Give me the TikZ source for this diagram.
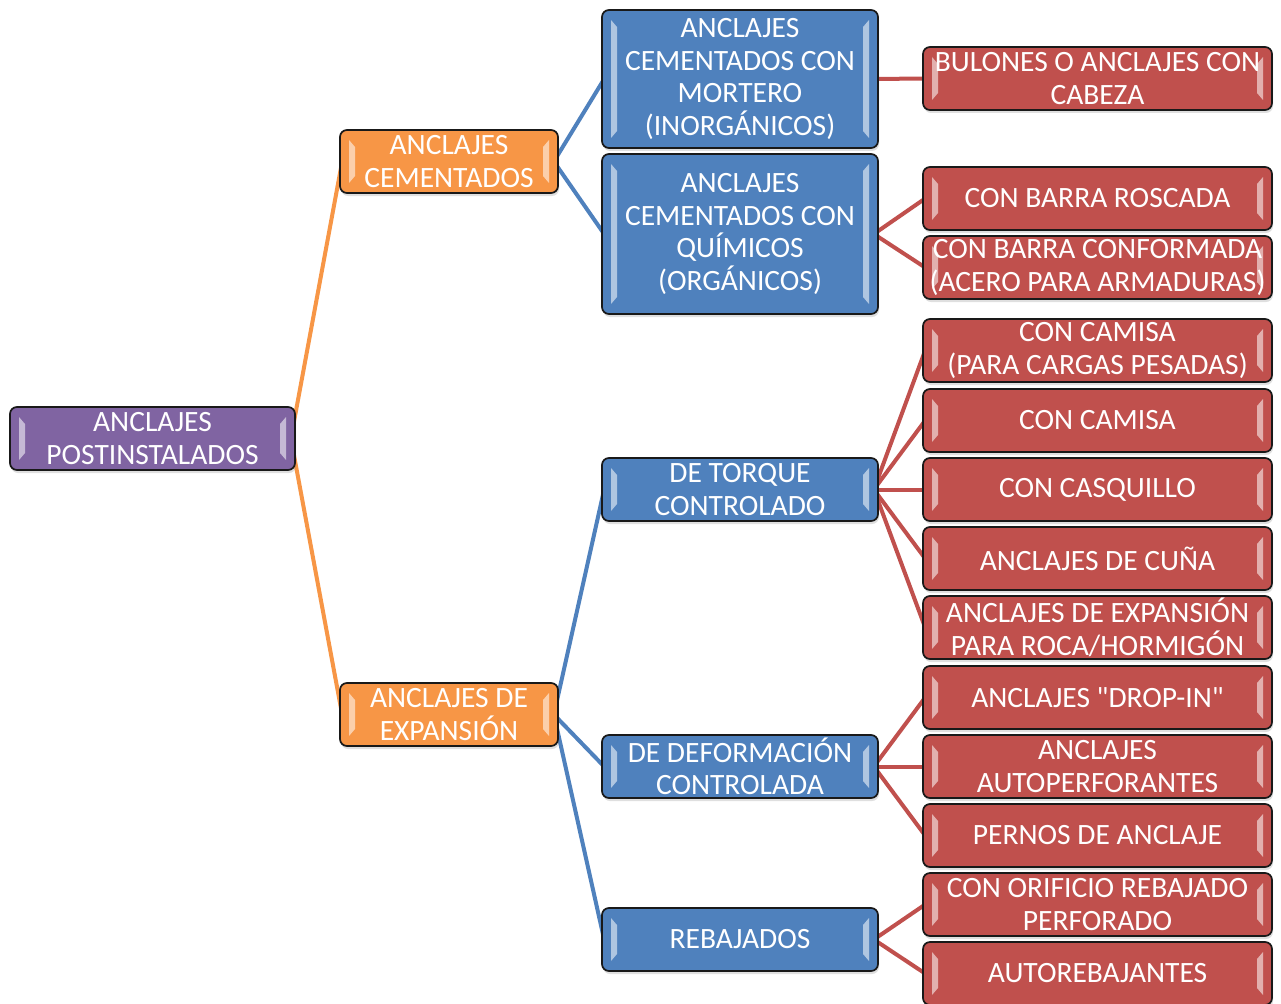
\documentclass[tikz,border=0pt]{standalone}
\usepackage{fontspec}
\setmainfont{Carlito}
\usetikzlibrary{shadows,backgrounds}

\definecolor{cPurple}{HTML}{8064A2}
\definecolor{cOrange}{HTML}{F79646}
\definecolor{cBlue}{HTML}{4F81BD}
\definecolor{cRed}{HTML}{C0504D}

\tikzset{
  box/.style={
    draw=black!90, line width=1.7pt, rounded corners=7pt,
    text=white, align=center, inner sep=0pt,
    font=\fontsize{29.5}{32.5}\selectfont,
    drop shadow={shadow xshift=1pt, shadow yshift=-3pt, opacity=.25},
    path picture={
      % bevelled light strips along both short sides
      \fill[white, opacity=.55, sharp corners]
        ([xshift=9pt,yshift=-10pt]path picture bounding box.north west)
        -- ++(6pt,-7pt)
        -- ([xshift=15pt,yshift=17pt]path picture bounding box.south west)
        -- ++(-6pt,-7pt) -- cycle;
      \fill[white, opacity=.55, sharp corners]
        ([xshift=-9pt,yshift=-10pt]path picture bounding box.north east)
        -- ++(-6pt,-7pt)
        -- ([xshift=-15pt,yshift=17pt]path picture bounding box.south east)
        -- ++(6pt,-7pt) -- cycle;
    }},
  rootbox/.style={box, fill=cPurple, minimum width=285pt, minimum height=63pt},
  midbox/.style={box, fill=cOrange, minimum width=218pt, minimum height=63pt},
  subbox/.style={box, fill=cBlue, minimum width=276pt, minimum height=63pt},
  leafbox/.style={box, fill=cRed, minimum width=349pt, minimum height=63pt},
  link/.style={line width=4pt},
}

\begin{document}
\begin{tikzpicture}[x=1pt, y=-1pt]
\useasboundingbox (0,0) rectangle (1281,1003);

% root
\node[rootbox] (root) at (152.5,438.5) {ANCLAJES\\POSTINSTALADOS};

% second level
\node[midbox] (cem) at (449,161.5) {ANCLAJES\\CEMENTADOS};
\node[midbox] (exp) at (449,714.5) {ANCLAJES DE\\EXPANSIÓN};

% third level
\node[subbox, minimum height=138pt] (mort) at (740,79) {ANCLAJES\\CEMENTADOS CON\\MORTERO\\(INORGÁNICOS)};
\node[subbox, minimum height=160pt] (quim) at (740,234) {ANCLAJES\\CEMENTADOS CON\\QUÍMICOS\\(ORGÁNICOS)};
\node[subbox] (torq) at (740,489.5) {DE TORQUE\\CONTROLADO};
\node[subbox] (defo) at (740,766.5) {DE DEFORMACIÓN\\CONTROLADA};
\node[subbox] (reba) at (740,939.5) {REBAJADOS};

% leaves
\node[leafbox] (l1)  at (1097.5,78.5)  {BULONES O ANCLAJES CON\\CABEZA};
\node[leafbox] (l2)  at (1097.5,198.5) {CON BARRA ROSCADA};
\node[leafbox] (l3)  at (1097.5,267.5) {CON BARRA CONFORMADA\\(ACERO PARA ARMADURAS)};
\node[leafbox] (l4)  at (1097.5,350.5) {CON CAMISA\\(PARA CARGAS PESADAS)};
\node[leafbox] (l5)  at (1097.5,420.5) {CON CAMISA};
\node[leafbox] (l6)  at (1097.5,489.5) {CON CASQUILLO};
\node[leafbox] (l7)  at (1097.5,558.5) {ANCLAJES DE CUÑA};
\node[leafbox] (l8)  at (1097.5,627.5) {ANCLAJES DE EXPANSIÓN\\PARA ROCA/HORMIGÓN};
\node[leafbox] (l9)  at (1097.5,697.5) {ANCLAJES \textquotedbl DROP-IN\textquotedbl};
\node[leafbox] (l10) at (1097.5,766.5) {ANCLAJES\\AUTOPERFORANTES};
\node[leafbox] (l11) at (1097.5,835.5) {PERNOS DE ANCLAJE};
\node[leafbox] (l12) at (1097.5,904.5) {CON ORIFICIO REBAJADO\\PERFORADO};
\node[leafbox] (l13) at (1097.5,973.5) {AUTOREBAJANTES};

% connectors, behind the boxes
\begin{scope}[on background layer]
  \foreach \p/\c/\col in {root/cem/cOrange, root/exp/cOrange,
      cem/mort/cBlue, cem/quim/cBlue,
      exp/torq/cBlue, exp/defo/cBlue, exp/reba/cBlue,
      mort/l1/cRed, quim/l2/cRed, quim/l3/cRed,
      torq/l4/cRed, torq/l5/cRed, torq/l6/cRed, torq/l7/cRed, torq/l8/cRed,
      defo/l9/cRed, defo/l10/cRed, defo/l11/cRed,
      reba/l12/cRed, reba/l13/cRed}
    \draw[link, draw=\col] ([xshift=-5pt]\p.east) -- ([xshift=3pt]\c.west);
\end{scope}
\end{tikzpicture}
\end{document}
